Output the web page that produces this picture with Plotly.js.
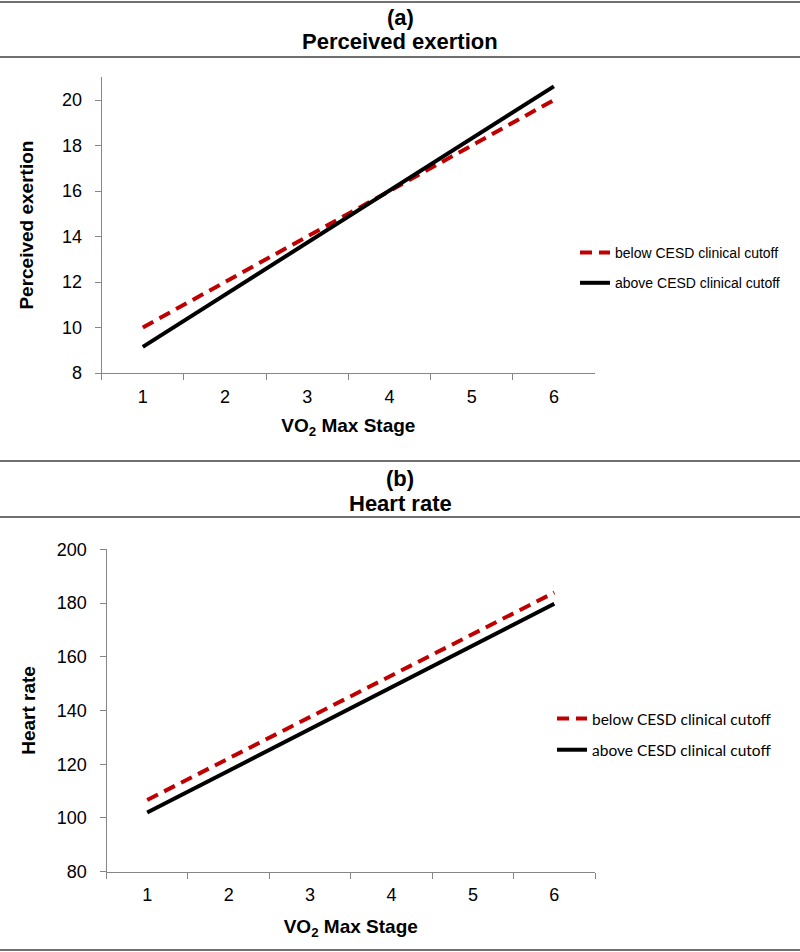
<!DOCTYPE html>
<html>
<head>
<meta charset="utf-8">
<script src="https://cdn.plot.ly/plotly-3.0.1.min.js"></script>
<style>html,body{margin:0;padding:0;background:#fff;}#chart{width:800px;height:952px;}</style>
</head>
<body>
<div id="chart"></div>
<script>
// Data
const stages = ["1", "2", "3", "4", "5", "6"];
const exertionBelow = [10.0, 12.0, 14.0, 16.0, 18.0, 20.0];
const exertionAbove = [9.15, 11.45, 13.75, 16.0, 18.3, 20.6];
const hrBelow = [106.7, 122.1, 137.6, 153.0, 168.5, 183.9];
const hrAbove = [102.0, 117.5, 133.1, 148.6, 164.2, 179.7];
const seriesNames = ["below CESD clinical cutoff", "above CESD clinical cutoff"];
const panelLetters = ["(a)", "(b)"];
const panelTitles = ["Perceived exertion", "Heart rate"];
const xTitle = "VO<sub>2</sub> Max Stage";
const yTitles = ["Perceived exertion", "Heart rate"];

const W = 800, H = 952;
const px = v => v / W;
const py = v => 1 - v / H;

const red = "#c00000";
const black = "#000000";
const axisGray = "#868686";

const traces = [
  {x: stages, y: exertionBelow, name: seriesNames[0], mode: "lines", xaxis: "x", yaxis: "y", legend: "legend", legendgroup: "a1",
   line: {color: red, width: 4, dash: "12px,7px"}},
  {x: stages, y: exertionAbove, name: seriesNames[1], mode: "lines", xaxis: "x", yaxis: "y", legend: "legend", legendgroup: "a2",
   line: {color: black, width: 4}},
  {x: stages, y: hrBelow, name: seriesNames[0], mode: "lines", xaxis: "x2", yaxis: "y2", legend: "legend2", legendgroup: "b1",
   line: {color: red, width: 4, dash: "12px,7px"}},
  {x: stages, y: hrAbove, name: seriesNames[1], mode: "lines", xaxis: "x2", yaxis: "y2", legend: "legend2", legendgroup: "b2",
   line: {color: black, width: 4}}
];

const ARIAL = "Arial, 'Liberation Sans', sans-serif";
const tickFont = {family: ARIAL, size: 18, color: "#000"};
const titleFont = {family: ARIAL, size: 19, color: "#000", weight: "bold"};

function xAxis(dom, anchor, standoff) {
  return {
    domain: dom, anchor: anchor, type: "category", range: [-0.5, 5.5],
    tickson: "boundaries", ticks: "outside", ticklen: 6, tickcolor: axisGray, tickwidth: 1,
    showline: true, linecolor: axisGray, linewidth: 1, showgrid: false, zeroline: false,
    tickfont: tickFont, fixedrange: true, ticklabelstandoff: 7,
    title: {text: xTitle, font: titleFont, standoff: standoff}
  };
}
function yAxis(dom, anchor, range, dtick, title, standoff) {
  return {
    domain: dom, anchor: anchor, range: range, dtick: dtick, tick0: range[0],
    ticks: "outside", ticklen: 6, tickcolor: axisGray, tickwidth: 1,
    showline: true, linecolor: axisGray, linewidth: 1, showgrid: false, zeroline: false,
    tickfont: tickFont, fixedrange: true, ticklabelstandoff: 9,
    title: {text: title, font: titleFont, standoff: standoff}
  };
}

const hdrFont = {family: "'Liberation Sans Narrow', 'Arial Narrow', Arial, sans-serif", size: 22, color: "#000", weight: "bold"};

const layout = {
  width: W, height: H,
  margin: {l: 0, r: 0, t: 0, b: 0},
  paper_bgcolor: "#fff", plot_bgcolor: "#fff",
  showlegend: true,
  xaxis: xAxis([px(101.7), px(595)], "y", 13),
  yaxis: yAxis([py(373), py(77.25)], "x", [8, 21], 2, yTitles[0], 23),
  xaxis2: xAxis([px(106.5), px(595)], "y2", 15),
  yaxis2: yAxis([py(871.7), py(549.3)], "x2", [80, 200], 20, yTitles[1], 16),
  legend: {x: px(575), y: py(237), xanchor: "left", yanchor: "top", traceorder: "grouped", tracegroupgap: 9,
           font: {family: ARIAL, size: 14, color: "#000"}, bgcolor: "rgba(0,0,0,0)"},
  legend2: {x: px(552), y: py(702), xanchor: "left", yanchor: "top", traceorder: "grouped", tracegroupgap: 8,
            font: {family: "Lato, 'Open Sans', sans-serif", size: 15.5, color: "#000"}, bgcolor: "rgba(0,0,0,0)"},
  annotations: [
    {text: panelLetters[0], x: 0.5, y: py(17), xref: "paper", yref: "paper", showarrow: false, font: hdrFont, yanchor: "middle"},
    {text: panelTitles[0], x: 0.5, y: py(42), xref: "paper", yref: "paper", showarrow: false, font: hdrFont, yanchor: "middle"},
    {text: panelLetters[1], x: 0.5, y: py(478), xref: "paper", yref: "paper", showarrow: false, font: hdrFont, yanchor: "middle"},
    {text: panelTitles[1], x: 0.5, y: py(503), xref: "paper", yref: "paper", showarrow: false, font: hdrFont, yanchor: "middle"}
  ],
  shapes: [2, 57, 461, 517, 950].map(v => ({
    type: "line", xref: "paper", yref: "paper", x0: 0, x1: 1, y0: py(v), y1: py(v),
    line: {color: "#707070", width: 2}
  }))
};

Plotly.newPlot("chart", traces, layout, {displayModeBar: false, staticPlot: true});
</script>
</body>
</html>
